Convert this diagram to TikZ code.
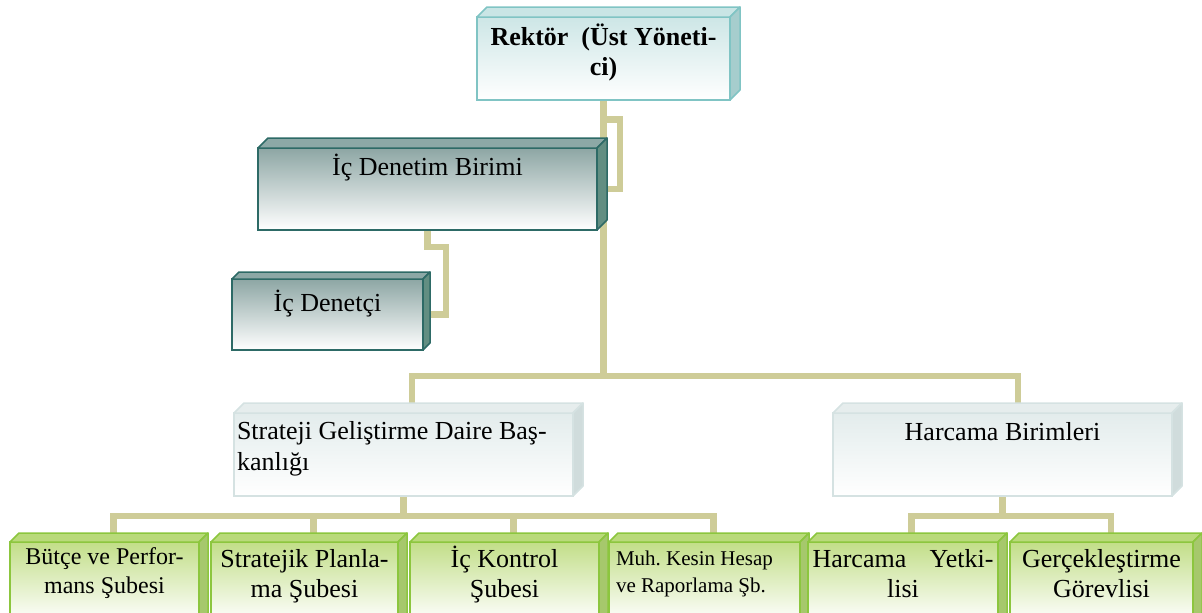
\documentclass[tikz,border=0pt]{standalone}
\usepackage{fontspec}
\setmainfont{Liberation Serif}
\frenchspacing
\setlength{\parindent}{0pt}
\pgfdeclarelayer{bg}
\pgfsetlayers{bg,main}
\definecolor{connc}{HTML}{CECC98}
\definecolor{rekF}{HTML}{CDE6E6}
\definecolor{rekB}{HTML}{80C4C4}
\definecolor{rekT}{HTML}{C9E5E5}
\definecolor{rekS}{HTML}{A6CDCD}
\definecolor{denF}{HTML}{8DA6A4}
\definecolor{denB}{HTML}{2D6A66}
\definecolor{denT}{HTML}{8CA8A6}
\definecolor{denS}{HTML}{628E82}
\definecolor{ligF}{HTML}{E3ECEC}
\definecolor{ligB}{HTML}{D5E2E2}
\definecolor{ligT}{HTML}{E6EDED}
\definecolor{ligS}{HTML}{D0DCDC}
\definecolor{grnF}{HTML}{C2DE88}
\definecolor{grnB}{HTML}{8CC63E}
\definecolor{grnT}{HTML}{B9DA7A}
\definecolor{grnS}{HTML}{A6C86C}
\newcommand\boxtext[3]{\parbox[c][#2][t]{#1}{\parindent=0pt #3}}
\newcommand\cubefaces[5]{%
  \filldraw[fill=#3,draw=#5,line width=1.5pt,line join=round]
    (#1.north west) -- ++(#2pt,#2pt) -- ([shift={(#2pt,#2pt)}]#1.north east) -- (#1.north east) -- cycle;
  \filldraw[fill=#4,draw=#5,line width=1.5pt,line join=round]
    (#1.north east) -- ([shift={(#2pt,#2pt)}]#1.north east) -- ([shift={(#2pt,#2pt)}]#1.south east) -- (#1.south east) -- cycle;}
\tikzset{
  conn/.style={line width=6.5pt, draw=connc},
  frontbox/.style={inner sep=0pt, outer sep=0pt, anchor=north west, line width=1.5pt},
  rekbox/.style={frontbox, draw=rekB, top color=rekF, bottom color=white},
  denbox/.style={frontbox, draw=denB, top color=denF, bottom color=white},
  ligbox/.style={frontbox, draw=ligB, top color=ligF, bottom color=white},
  grnbox/.style={frontbox, draw=grnB, top color=grnF, bottom color=white}
}
\begin{document}
\begin{tikzpicture}[x=1pt,y=-1pt]
\useasboundingbox (0,0) rectangle (1202,613);
\clip (0,0) rectangle (1202,613);
% boxes
\node[rekbox] (rektor) at (477,17) {\boxtext{253pt}{83pt}{\centering\bfseries\fontsize{26}{30}\selectfont\rule{0pt}{28pt}Rektör~ (Üst Yöneti-\\ci)}};
\cubefaces{rektor}{10}{rekT}{rekS}{rekB}
\node[denbox] (icdenetim) at (258,148) {\boxtext{339pt}{82pt}{\centering\fontsize{26}{30}\selectfont\rule{0pt}{27pt}İç Denetim Birimi}};
\cubefaces{icdenetim}{10}{denT}{denS}{denB}
\node[denbox] (icdenetci) at (232,279) {\boxtext{191pt}{71pt}{\centering\fontsize{26}{30}\selectfont\rule{0pt}{32pt}İç Denetçi}};
\cubefaces{icdenetci}{7}{denT}{denS}{denB}
\node[ligbox] (strateji) at (234,413) {\boxtext{339pt}{83pt}{\fontsize{26}{30}\selectfont
  \begin{tabular}[t]{@{\hspace{3pt}}l@{}}
  \rule{0pt}{26pt}Strateji Geliştirme Daire Baş-\\[1pt]
  kanl^^^^0131^^^^011f^^^^0131
  \end{tabular}}};
\cubefaces{strateji}{10}{ligT}{ligS}{ligB}
\node[ligbox] (harcama) at (833,413) {\boxtext{339pt}{83pt}{\centering\fontsize{26}{30}\selectfont\rule{0pt}{27pt}Harcama Birimleri}};
\cubefaces{harcama}{10}{ligT}{ligS}{ligB}
\node[grnbox] (g1) at (10,542) {\boxtext{189pt}{80pt}{\centering\fontsize{24}{29}\selectfont\rule{0pt}{22pt}Bütçe ve Perfor-\\mans Şubesi}};
\cubefaces{g1}{9}{grnT}{grnS}{grnB}
\node[grnbox] (g2) at (211,542) {\boxtext{187pt}{80pt}{\centering\fontsize{26}{30}\selectfont\rule{0pt}{25pt}Stratejik Planla-\\ma Şubesi}};
\cubefaces{g2}{9}{grnT}{grnS}{grnB}
\node[grnbox] (g3) at (410,542) {\boxtext{189pt}{80pt}{\centering\fontsize{26}{30}\selectfont\rule{0pt}{25pt}İç Kontrol\\Şubesi}};
\cubefaces{g3}{9}{grnT}{grnS}{grnB}
\node[grnbox] (g4) at (609,542) {\boxtext{191pt}{80pt}{\fontsize{21}{27}\selectfont
  \noindent\rule{0pt}{23pt}\makebox[188pt][l]{\hspace*{7pt}Muh. Kesin Hesap}\par
  \noindent\makebox[188pt][l]{\hspace*{7pt}ve Raporlama Şb.}}};
\cubefaces{g4}{9}{grnT}{grnS}{grnB}
\node[grnbox] (g5) at (808,542) {\boxtext{190pt}{80pt}{\centering\fontsize{26}{30}\selectfont\rule{0pt}{25pt}\makebox[181pt][s]{Harcama Yetki-}\\lisi}};
\cubefaces{g5}{9}{grnT}{grnS}{grnB}
\node[grnbox] (g6) at (1010,542) {\boxtext{183pt}{80pt}{\centering\fontsize{26}{30}\selectfont\rule{0pt}{25pt}Gerçekleştirme\\Görevlisi}};
\cubefaces{g6}{9}{grnT}{grnS}{grnB}
% connectors
\begin{pgfonlayer}{bg}
\coordinate (busA) at (603.5,376);
\coordinate (brA) at (603.5,119.5);
\draw[conn] (rektor.south) -- (busA);
\draw[conn] ([xshift=8.5pt]strateji.north) |- (busA) -| ([xshift=15.5pt]harcama.north);
\draw[conn] (brA) -- ++(16.5,0) |- ([xshift=5pt]icdenetim.east);
\draw[conn] (icdenetim.south) -- ++(0,17) -- ++(18.5,0) |- ([xshift=4pt]icdenetci.east);
\draw[conn] (strateji.south) -- ++(0,20) coordinate (busB);
\draw[conn] ([xshift=9pt]g1.north) |- (busB) -| ([xshift=9pt]g4.north);
\draw[conn] ([xshift=9pt]g2.north) -- ([xshift=9pt]g2.north |- busB);
\draw[conn] ([xshift=9pt]g3.north) -- ([xshift=9pt]g3.north |- busB);
\draw[conn] (harcama.south) -- ++(0,20) coordinate (busC);
\draw[conn] ([xshift=8.5pt]g5.north) |- (busC) -| ([xshift=9.5pt]g6.north);
\end{pgfonlayer}
\end{tikzpicture}
\end{document}
